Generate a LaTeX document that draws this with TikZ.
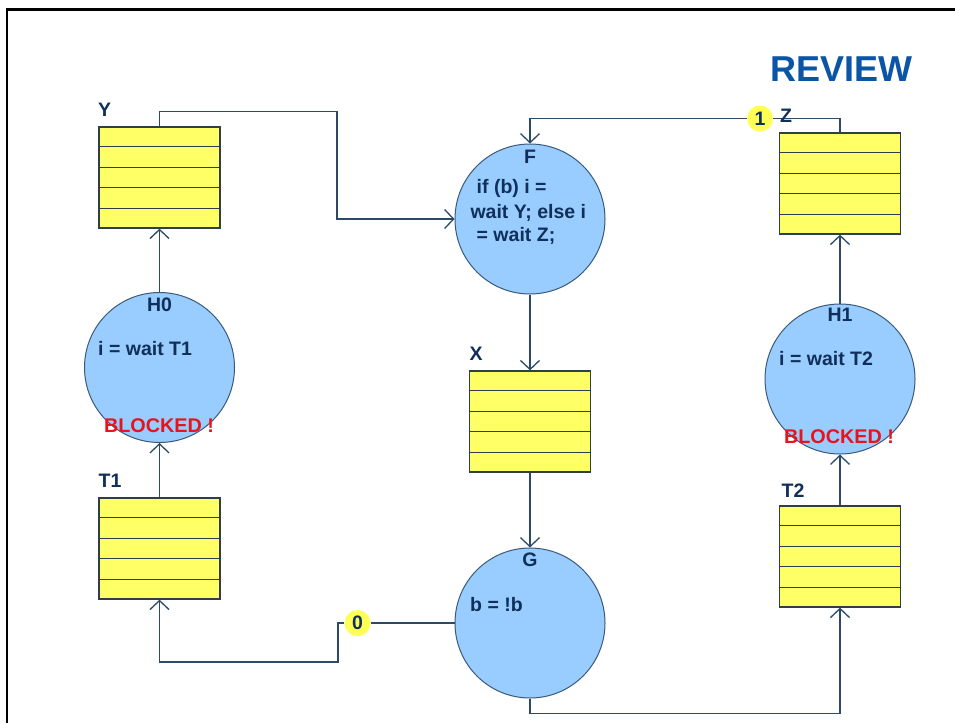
\documentclass[tikz,border=0pt]{standalone}
\usepackage{fontspec}
\setmainfont{Liberation Sans}
\usetikzlibrary{arrows.meta,calc}
\definecolor{cfill}{HTML}{99CCFF}
\definecolor{cline}{HTML}{3A5A7A}
\definecolor{qfill}{HTML}{FFFF66}
\definecolor{qline}{HTML}{2F3F48}
\definecolor{txt}{HTML}{10305A}
\definecolor{conn}{HTML}{2C4A68}
\definecolor{rev}{HTML}{0B55A6}
\definecolor{blk}{HTML}{E8141B}
\definecolor{badgecol}{HTML}{FFFF55}
\begin{document}
\begin{tikzpicture}[x=1pt,y=-1pt,
  proc/.style={circle,draw=cline,fill=cfill,line width=1pt,minimum size=150pt,inner sep=0pt},
  queue/.style={rectangle,draw=qline,fill=qfill,line width=1.3pt,minimum width=121pt,minimum height=101pt,inner sep=0pt},
  lbl/.style={font=\bfseries\fontsize{19.5}{22}\selectfont,text=txt,inner sep=0pt},
  body/.style={font=\bfseries\fontsize{19.5}{22}\selectfont,text=txt,inner sep=0pt,anchor=base west},
  blocked/.style={font=\bfseries\fontsize{19.8}{22}\selectfont,text=blk,inner sep=0pt,anchor=base west},
  badge/.style={circle,fill=badgecol,minimum size=26pt,inner sep=0pt,font=\bfseries\fontsize{19.5}{22}\selectfont,text=txt},
  conn/.style={draw=conn,line width=1.3pt},
  arr/.style={conn,-{Straight Barb[length=9pt,width=19pt]}}
]
\useasboundingbox (0,0) rectangle (955,723);
\fill[white] (0,0) rectangle (955,723);
\draw[line width=2.5pt,black] (7,723) -- (7,9.5) -- (955,9.5);

% title
\node[font=\bfseries\fontsize{36}{40}\selectfont,text=rev,inner sep=0pt,anchor=base west] (title) at (770.5,81.7) {REVIEW};

% queues
\node[queue] (Y) at (159.5,177.5) {};
\node[queue] (Z) at (840,183.5) {};
\node[queue] (X) at (530,421.5) {};
\node[queue] (T1) at (159.5,548.5) {};
\node[queue] (T2) at (840,556.5) {};
\foreach \q in {Y,Z,X,T1,T2}
  \foreach \k in {1,...,4}
    \draw[qline,line width=1.3pt] ($(\q.north west)!\k/5!(\q.south west)$) -- ($(\q.north east)!\k/5!(\q.south east)$);

% processes
\node[proc] (F) at (530,219) {};
\node[proc] (H0) at (159.5,367.5) {};
\node[proc] (H1) at (840,379) {};
\node[proc] (G) at (530,623) {};

% badges
\node[badge] (b1) at (760,118.5) {1};
\node[badge] (b0) at (357.5,623) {0};

% connectors
\draw[arr] (Y.north) -- ++(0,-15) -| (337,219) -- (F.west);
\draw[conn] (Z.north) |- (b1.east);
\draw[arr] (b1.west) -| (F.north);
\draw[arr] (F.south) -- (X.north);
\draw[arr] (X.south) -- (G.north);
\draw[arr] (H0.north) -- (Y.south);
\draw[arr] (T1.north) -- (H0.south);
\draw[arr] (H1.north) -- (Z.south);
\draw[arr] (T2.north) -- (H1.south);
\draw[conn] (G.west) -- (b0.east);
\draw[arr] (b0.west) -| (338,662) -| (T1.south);
\draw[arr] (G.south) -- ++(0,15) -| (T2.south);

% labels
\node[lbl] (lY) at (104.7,109.7) {Y};
\node[lbl] (lZ) at (786,115.5) {Z};
\node[lbl] (lX) at (476,354) {X};
\node[lbl] (lT1) at (110,481) {T1};
\node[lbl] (lT2) at (793,491) {T2};
\node[lbl] (lF) at (530,156.5) {F};
\node[lbl] (lH0) at (159.5,305) {H0};
\node[lbl] (lH1) at (840,315) {H1};
\node[lbl] (lG) at (530,560) {G};

% texts
\node[body] (f1) at (476.5,193.3) {if (b) i =};
\node[body] (f2) at (470.3,218.3) {wait Y; else i};
\node[body] (f3) at (476.5,241.7) {= wait Z;};
\node[body] (h0t) at (98,355) {i = wait T1};
\node[body] (h1t) at (779,365) {i = wait T2};
\node[body] (gt) at (470,611.7) {b = !b};
\node[blocked] (bl0) at (103.8,432) {BLOCKED !};
\node[blocked] (bl1) at (783.8,443) {BLOCKED !};
\end{tikzpicture}
\end{document}
